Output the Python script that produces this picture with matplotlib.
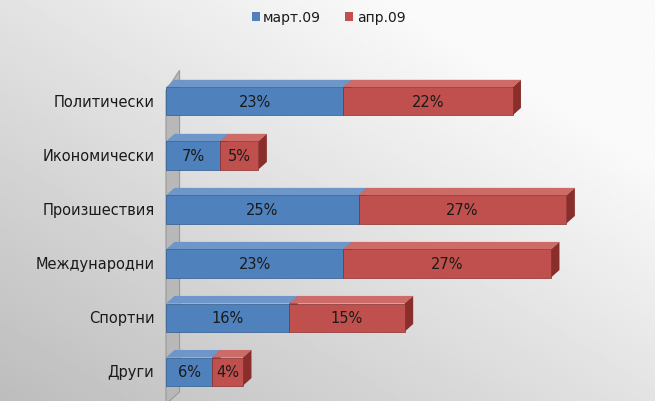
import matplotlib.pyplot as plt
import numpy as np
from matplotlib.patches import Polygon

categories = ["Политически", "Икономически", "Произшествия", "Международни", "Спортни", "Други"]
mart = [23, 7, 25, 23, 16, 6]
apr = [22, 5, 27, 27, 15, 4]
series_names = ["март.09", "апр.09"]

blue, blue_dark, blue_top = "#4f81bd", "#2f5a8f", "#6f96c8"
red, red_dark, red_top = "#c0504d", "#8a2e2c", "#cc6b68"

fig = plt.figure(figsize=(6.55, 4.02), dpi=100)

# background gradient
bg = fig.add_axes([0, 0, 1, 1], zorder=-10)
gx, gy = np.meshgrid(np.linspace(0, 1, 200), np.linspace(0, 1, 200))
grad = 0.74 + 0.24 * np.clip((gx + (1 - gy)) / 1.6, 0, 1)
bg.imshow(grad, cmap="gray", vmin=0, vmax=1, aspect="auto", extent=[0, 1, 0, 1])
bg.axis("off")

ax = fig.add_axes([166 / 655, -3 / 402, 462 / 655, 335 / 402])
ax.set_xlim(0, 60)
ax.set_ylim(5.6, -0.6)
ax.axis("off")

dx, dy = 1.1, -0.14
h = 0.52

# left wall
wall = Polygon([(0, 5.6), (0, -0.2), (dx * 1.6, -0.2 + dy * 1.6 - 0.15), (dx * 1.6, 5.6 + dy * 1.6)],
               closed=True, facecolor="#b8b8b8", edgecolor="#999999", lw=0.8, zorder=0, clip_on=False)
ax.add_patch(wall)


def bar3d(x0, w, yc, face, side, top):
    y0, y1 = yc - h / 2, yc + h / 2
    ax.add_patch(Polygon([(x0, y0), (x0 + dx, y0 + dy), (x0 + w + dx, y0 + dy), (x0 + w, y0)],
                         facecolor=top, edgecolor="none", zorder=2, clip_on=False))
    ax.add_patch(Polygon([(x0 + w, y0), (x0 + w + dx, y0 + dy), (x0 + w + dx, y1 + dy), (x0 + w, y1)],
                         facecolor=side, edgecolor="none", zorder=2, clip_on=False))
    ax.barh(yc, w, left=x0, height=h, color=face, edgecolor=side, lw=0.5, zorder=3)


for i, cat in enumerate(categories):
    bar3d(0, mart[i], i, blue, blue_dark, blue_top)
    bar3d(mart[i], apr[i], i, red, red_dark, red_top)
    ax.text(mart[i] / 2, i, f"{mart[i]}%", ha="center", va="center", fontsize=10.5, color="#1a1a1a", zorder=4)
    ax.text(mart[i] + apr[i] / 2, i, f"{apr[i]}%", ha="center", va="center", fontsize=10.5, color="#1a1a1a", zorder=4)
    ax.text(-1.5, i, cat, ha="right", va="center", fontsize=10.5, color="#1a1a1a")

# legend
fig.patches.append(plt.Rectangle((252 / 655, 1 - 22 / 402), 8 / 655, 9 / 402, transform=fig.transFigure,
                                 facecolor=blue, edgecolor="none"))
fig.text(263 / 655, 1 - 18 / 402, series_names[0], fontsize=10, va="center", color="#1a1a1a")
fig.patches.append(plt.Rectangle((345 / 655, 1 - 22 / 402), 8 / 655, 9 / 402, transform=fig.transFigure,
                                 facecolor=red, edgecolor="none"))
fig.text(357 / 655, 1 - 18 / 402, series_names[1], fontsize=10, va="center", color="#1a1a1a")

fig.savefig("out.png", dpi=100)
